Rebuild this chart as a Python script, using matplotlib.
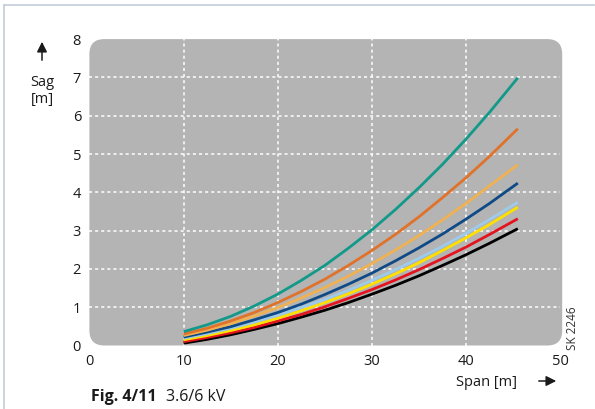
import matplotlib
matplotlib.use("Agg")
import matplotlib.pyplot as plt
from matplotlib.patches import FancyBboxPatch, FancyArrowPatch
from matplotlib.lines import Line2D

plt.rcParams['font.family'] = ['Open Sans', 'DejaVu Sans']

span = [10, 12.5, 15, 17.5, 20, 22.5, 25, 27.5, 30, 32.5, 35, 37.5, 40, 42.5, 45.5]
teal = [0.36, 0.54, 0.76, 1.03, 1.34, 1.70, 2.09, 2.54, 3.02, 3.55, 4.12, 4.73, 5.39, 6.09, 6.99]
orange = [0.30, 0.45, 0.64, 0.86, 1.12, 1.41, 1.73, 2.09, 2.48, 2.90, 3.36, 3.86, 4.38, 4.94, 5.66]
light_orange = [0.26, 0.40, 0.57, 0.77, 0.99, 1.24, 1.51, 1.81, 2.14, 2.49, 2.87, 3.28, 3.71, 4.17, 4.72]
dark_blue = [0.22, 0.35, 0.49, 0.67, 0.86, 1.08, 1.33, 1.60, 1.89, 2.21, 2.55, 2.91, 3.30, 3.71, 4.24]
light_blue = [0.19, 0.31, 0.45, 0.61, 0.79, 0.99, 1.20, 1.44, 1.70, 1.98, 2.28, 2.59, 2.93, 3.29, 3.74]
yellow = [0.15, 0.26, 0.39, 0.54, 0.71, 0.91, 1.12, 1.35, 1.60, 1.87, 2.16, 2.48, 2.81, 3.16, 3.61]
red = [0.10, 0.21, 0.33, 0.47, 0.64, 0.81, 1.01, 1.23, 1.46, 1.71, 1.98, 2.27, 2.57, 2.90, 3.31]
black = [0.06, 0.16, 0.28, 0.42, 0.57, 0.74, 0.92, 1.12, 1.34, 1.57, 1.82, 2.09, 2.37, 2.67, 3.05]

series = [
    (teal, '#12998a'),
    (orange, '#e0722a'),
    (light_orange, '#f0b152'),
    (dark_blue, '#0f4a87'),
    (light_blue, '#9fcbea'),
    (yellow, '#ffe000'),
    (red, '#e3141f'),
    (black, '#000000'),
]

xticks = [0, 10, 20, 30, 40, 50]
yticks = [0, 1, 2, 3, 4, 5, 6, 7, 8]

W, H = 595, 409
fig = plt.figure(figsize=(W / 100, H / 100), dpi=100)

ax_l, ax_r, ax_t, ax_b = 89.4, 560.2, 39.1, 345.5
ax = fig.add_axes([ax_l / W, 1 - ax_b / H, (ax_r - ax_l) / W, (ax_b - ax_t) / H])
ax.set_xlim(0, 50)
ax.set_ylim(0, 8)
ax.patch.set_visible(False)
for s in ax.spines.values():
    s.set_visible(False)

# rounded gray background
wpx = ax_r - ax_l + 2
hpx = ax_b - ax_t + 1
r = 15
bg = FancyBboxPatch((0, 0), 1 + 2 / (ax_r - ax_l), 1,
                    boxstyle="round,pad=0,rounding_size=%f" % (r / wpx),
                    mutation_aspect=wpx / hpx,
                    transform=ax.transAxes, facecolor='#b3b4b3',
                    edgecolor='none', zorder=0, clip_on=False)
ax.add_patch(bg)

for xv in [10, 20, 30, 40]:
    ax.axvline(xv, color='white', lw=1.1, ls=(0, (2, 2)), zorder=1)
for yv in [1, 2, 3, 4, 5, 6, 7]:
    ax.axhline(yv, color='white', lw=1.1, ls=(0, (2, 2)), zorder=1)

for vals, c in series[::-1]:
    ax.plot(span, vals, color=c, lw=2.0, zorder=3, solid_capstyle='butt',
            solid_joinstyle='round')

ax.set_xticks(xticks)
ax.set_xticklabels([str(v) for v in xticks], fontsize=10.5, color='#1a1a1a')
ax.set_yticks(yticks)
ax.set_yticklabels([str(v) for v in yticks], fontsize=10.5, color='#1a1a1a')
ax.tick_params(length=0)
ax.tick_params(axis='x', pad=6)
for lbl in ax.get_yticklabels():
    lbl.set_horizontalalignment('center')
ax.tick_params(axis='y', pad=9)


def ft(x, y, s, **kw):
    fig.text(x / W, 1 - y / H, s, **kw)


# y label with arrow
ft(42, 82, 'Sag', fontsize=10.5, ha='center', va='center', color='#1a1a1a')
ft(42, 99, '[m]', fontsize=10.5, ha='center', va='center', color='#1a1a1a')
fig.add_artist(FancyArrowPatch(
    (42 / W, 1 - 63 / H), (42 / W, 1 - 39 / H), transform=fig.transFigure,
    arrowstyle='-|>,head_length=4,head_width=2', mutation_scale=1.5,
    color='#1a1a1a', lw=1.1))

# x label with arrow
ft(486, 382, 'Span [m]', fontsize=10.5, ha='center', va='center', color='#1a1a1a')
fig.add_artist(FancyArrowPatch(
    (536 / W, 1 - 381 / H), (559 / W, 1 - 381 / H), transform=fig.transFigure,
    arrowstyle='-|>,head_length=4,head_width=2', mutation_scale=1.5,
    color='#1a1a1a', lw=1.1))

# figure caption
ft(91, 397, 'Fig. 4/11', fontsize=11.5, fontweight='bold', ha='left', va='center', color='#1a1a1a')
ft(166, 397, '3.6/6 kV', fontsize=11.5, ha='left', va='center', color='#1a1a1a')

# code
ft(573, 328, 'SK 2246', fontsize=8.5, rotation=90, ha='center', va='center', color='#333333')

# frame lines
fig.add_artist(Line2D([4 / W, 4 / W], [0, 1 - 5 / H], transform=fig.transFigure,
                      color='#c3ccd9', lw=1.2))
fig.add_artist(Line2D([4 / W, 594 / W], [1 - 5 / H, 1 - 5 / H], transform=fig.transFigure,
                      color='#c3ccd9', lw=1.2))

fig.savefig('out.png', dpi=100)
